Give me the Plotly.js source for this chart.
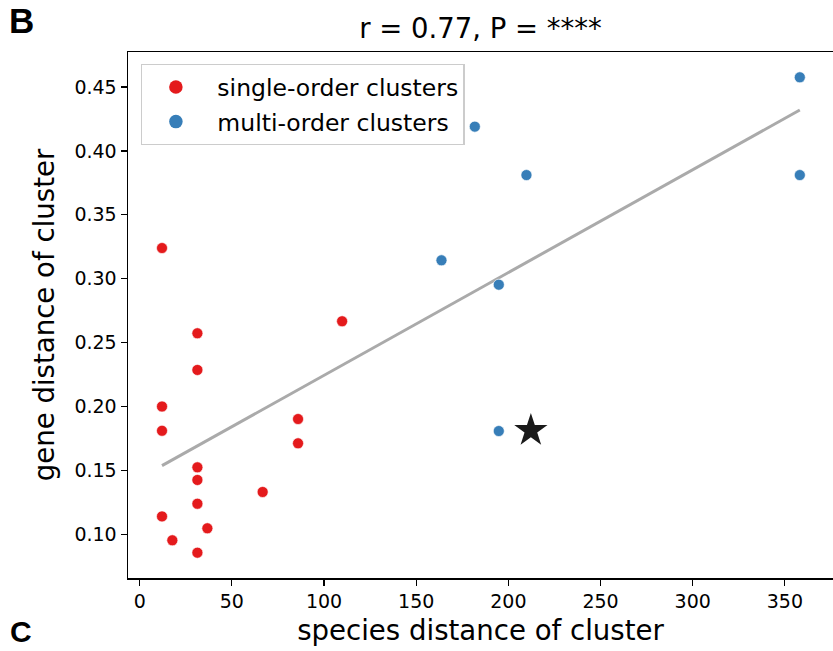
<!DOCTYPE html>
<html>
<head>
<meta charset="utf-8">
<script src="https://cdn.plot.ly/plotly-3.0.1.min.js"></script>
<style>html,body{margin:0;padding:0;background:#fff}#chart{width:833px;height:651px}</style>
</head>
<body>
<div id="chart"></div>
<script>
// single-order clusters
const singleX = [12.1, 12.1, 12.1, 12.1, 17.7, 31.3, 31.3, 31.3, 31.3, 31.3, 31.3, 36.7, 66.7, 85.9, 85.9, 109.8];
const singleY = [0.324, 0.200, 0.181, 0.114, 0.0953, 0.2573, 0.2286, 0.1524, 0.1425, 0.1239, 0.0856, 0.1047, 0.1331, 0.1902, 0.1712, 0.2667];
// multi-order clusters
const multiX = [358.1, 181.8, 209.8, 358.1, 163.7, 194.8, 194.8];
const multiY = [0.4576, 0.419, 0.3811, 0.3811, 0.3144, 0.2953, 0.1808];
// highlighted cluster (star)
const starX = [212.2];
const starY = [0.1812];
// regression line endpoints
const fitX = [12.1, 358.1];
const fitY = [0.1537, 0.432];

const seriesNames = ['single-order clusters', 'multi-order clusters'];
const xTicks = [0, 50, 100, 150, 200, 250, 300, 350];
const yTicks = [0.10, 0.15, 0.20, 0.25, 0.30, 0.35, 0.40, 0.45];
const yTickText = ['0.10', '0.15', '0.20', '0.25', '0.30', '0.35', '0.40', '0.45'];

const FONT = 'DejaVu Sans, sans-serif';
const RED = '#e41a1c', BLUE = '#377eb8';

const traces = [
  {x: fitX, y: fitY, mode: 'lines', line: {color: '#aaaaaa', width: 3}, showlegend: false, hoverinfo: 'skip'},
  {x: singleX, y: singleY, mode: 'markers', showlegend: false,
   marker: {color: RED, size: 11, line: {color: '#ffffff', width: 0.6}}},
  {x: multiX, y: multiY, mode: 'markers', showlegend: false,
   marker: {color: BLUE, size: 11, line: {color: '#ffffff', width: 0.6}}},
  {x: starX, y: starY, mode: 'markers', showlegend: false,
   marker: {symbol: 'star', color: '#1a1a1a', size: 25}},
  // legend entries (larger legend markers, as in the reference)
  {x: [null], y: [null], mode: 'markers', name: '\u00a0' + seriesNames[0], legendgroup: 'a',
   marker: {color: RED, size: 13.5}},
  {x: [null], y: [null], mode: 'markers', name: '\u00a0' + seriesNames[1], legendgroup: 'b',
   marker: {color: BLUE, size: 13.5}}
];

const layout = {
  width: 833, height: 651,
  margin: {l: 128, r: 0, t: 52, b: 73},
  paper_bgcolor: '#ffffff', plot_bgcolor: '#ffffff',
  font: {family: FONT, color: '#000000'},
  title: {text: 'r = 0.77, P = ****', font: {family: FONT, size: 27.5, color: '#000'},
          x: 0.5768, xanchor: 'center', y: 0.957, yanchor: 'middle', yref: 'container'},
  xaxis: {
    range: [-6.35, 376.1], tickmode: 'array', tickvals: xTicks,
    showgrid: false, zeroline: false, showline: true, linecolor: '#000', linewidth: 1.5,
    mirror: true, ticks: 'outside', ticklen: 6, tickwidth: 1.2, tickcolor: '#000',
    tickfont: {family: FONT, size: 19},
    title: {text: 'species distance of cluster', font: {family: FONT, size: 27.6}, standoff: 9}
  },
  yaxis: {
    range: [0.0658, 0.4774], tickmode: 'array', tickvals: yTicks, ticktext: yTickText,
    showgrid: false, zeroline: false, showline: true, linecolor: '#000', linewidth: 1.5,
    mirror: false, ticks: 'outside', ticklen: 6, tickwidth: 1.2, tickcolor: '#000',
    tickfont: {family: FONT, size: 19},
    title: {text: 'gene distance of cluster', font: {family: FONT, size: 27.6}, standoff: 11}
  },
  legend: {
    x: 0.018, y: 0.977, xanchor: 'left', yanchor: 'top',
    bgcolor: 'rgba(255,255,255,0.8)', bordercolor: '#cccccc', borderwidth: 1.2,
    font: {family: FONT, size: 23.5}, itemsizing: 'trace', tracegroupgap: 1, itemwidth: 58
  },
  annotations: [
    {text: '<b>B</b>', xref: 'paper', yref: 'paper', x: -121/705, y: 1 + 31/526, xanchor: 'left', yanchor: 'middle',
     showarrow: false, font: {family: 'Liberation Sans, Arial, sans-serif', size: 35, color: '#000'}},
    {text: '<b>C</b>', xref: 'paper', yref: 'paper', x: -128/705 + 0.012, y: -72/526, xanchor: 'left', yanchor: 'bottom',
     showarrow: false, font: {family: 'Liberation Sans, Arial, sans-serif', size: 30, color: '#000'}}
  ]
};

Plotly.newPlot('chart', traces, layout, {displayModeBar: false, staticPlot: true});
</script>
</body>
</html>
